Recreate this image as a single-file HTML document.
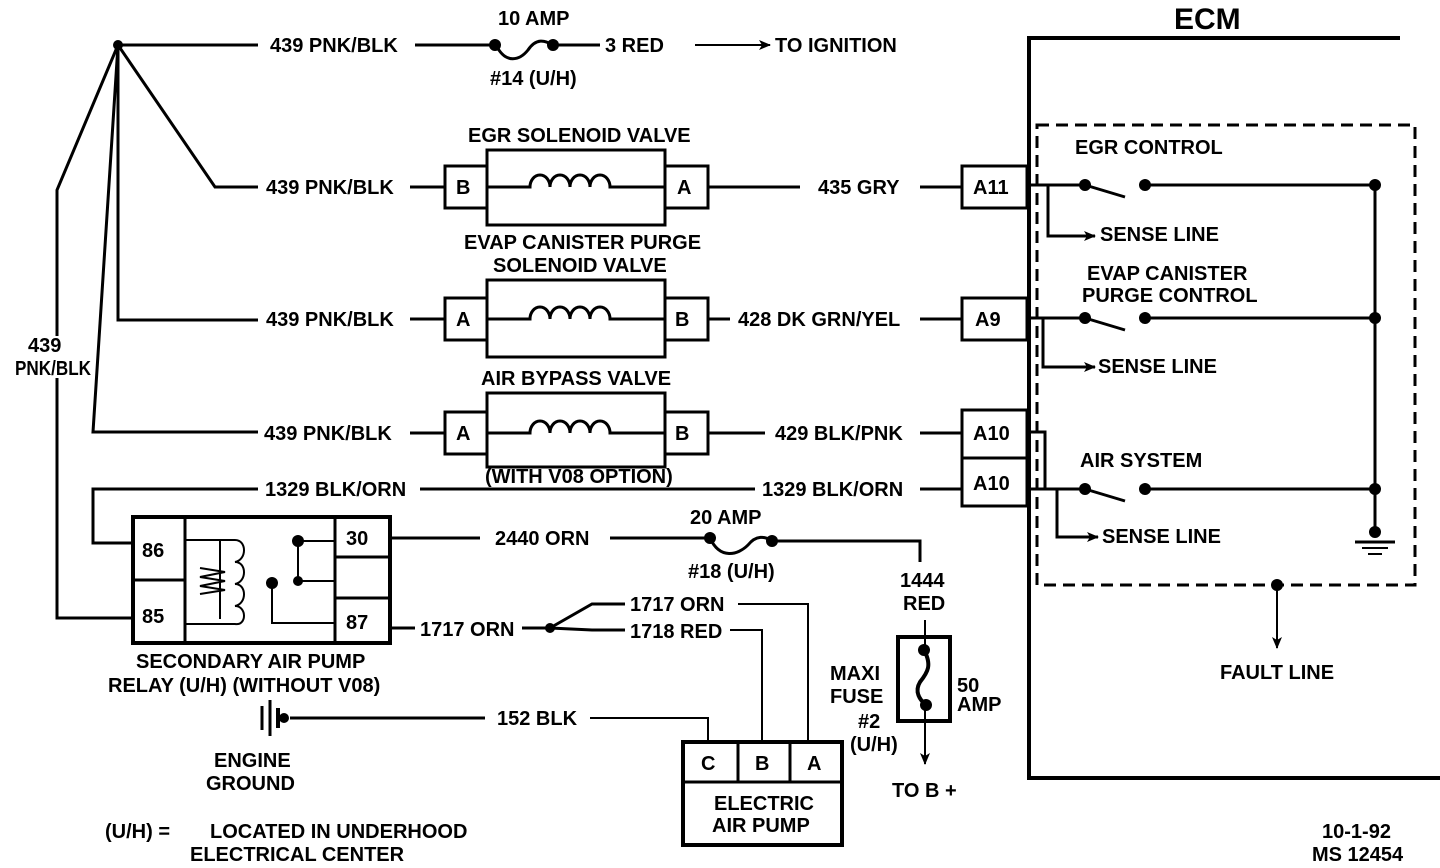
<!DOCTYPE html>
<html><head><style>
html,body{margin:0;padding:0;background:#fff;}
svg{display:block;}
text{font-family:"Liberation Sans",sans-serif;font-weight:bold;font-size:20px;fill:#000;}
</style></head><body>
<svg width="1440" height="868" viewBox="0 0 1440 868" xmlns="http://www.w3.org/2000/svg">
<defs><marker id="ar" markerWidth="12" markerHeight="10" refX="11" refY="5" orient="auto" markerUnits="userSpaceOnUse"><path d="M0,0 L12,5 L0,10 L3,5 Z" fill="#000"/></marker></defs>
<g stroke="#000" stroke-width="3" fill="none">
<line x1="118" y1="45" x2="258" y2="45"/>
<polyline points="118,45 215,187 258,187"/>
<polyline points="118,45 118,320 258,320"/>
<polyline points="118,45 93,432 258,432"/>
<polyline points="118,45 57,190 57,336"/>
<polyline points="57,378 57,618 133,618"/>
<polyline points="258,489 93,489 93,543 133,543"/>
<line x1="415" y1="45" x2="492" y2="45"/>
<path d="M496,45 C506,65 520,60 528,50 C536,38 545,40 552,45"/>
<line x1="555" y1="45" x2="600" y2="45"/>
<line x1="695" y1="45" x2="770" y2="45" marker-end="url(#ar)" stroke-width="2"/>
<rect x="445" y="166" width="42" height="42"/><rect x="487" y="150" width="178" height="75"/><rect x="665" y="166" width="43" height="42"/>
<line x1="410" y1="187" x2="445" y2="187"/>
<path d="M487,187 H530 a10,12 0 0 1 20,0 a10,12 0 0 1 20,0 a10,12 0 0 1 20,0 a10,12 0 0 1 20,0 H665"/>
<line x1="708" y1="187" x2="800" y2="187"/><line x1="920" y1="187" x2="962" y2="187"/>
<rect x="962" y="166" width="65" height="42"/>
<rect x="445" y="298" width="42" height="42"/><rect x="487" y="280" width="178" height="77"/><rect x="665" y="298" width="43" height="42"/>
<line x1="410" y1="319" x2="445" y2="319"/>
<path d="M487,319 H530 a10,12 0 0 1 20,0 a10,12 0 0 1 20,0 a10,12 0 0 1 20,0 a10,12 0 0 1 20,0 H665"/>
<line x1="708" y1="319" x2="730" y2="319"/><line x1="920" y1="319" x2="962" y2="319"/>
<rect x="962" y="298" width="65" height="42"/>
<rect x="445" y="412" width="42" height="42"/><rect x="487" y="393" width="178" height="74"/><rect x="665" y="412" width="43" height="42"/>
<line x1="410" y1="433" x2="445" y2="433"/>
<path d="M487,433 H530 a10,12 0 0 1 20,0 a10,12 0 0 1 20,0 a10,12 0 0 1 20,0 a10,12 0 0 1 20,0 H665"/>
<line x1="708" y1="433" x2="765" y2="433"/><line x1="920" y1="433" x2="962" y2="433"/>
<rect x="962" y="410" width="65" height="48"/><rect x="962" y="458" width="65" height="48"/>
<line x1="420" y1="489" x2="755" y2="489"/><line x1="920" y1="489" x2="962" y2="489"/>
<polyline points="1400,38 1029,38 1029,778 1440,778" stroke-width="4"/>
<rect x="1037" y="125" width="378" height="460" stroke-dasharray="12,7"/>
<line x1="1027" y1="185" x2="1085" y2="185"/><line x1="1085" y1="185" x2="1125" y2="197"/><line x1="1145" y1="185" x2="1375" y2="185"/>
<polyline points="1048,185 1048,236 1095,236" marker-end="url(#ar)"/>
<line x1="1027" y1="318" x2="1085" y2="318"/><line x1="1085" y1="318" x2="1125" y2="330"/><line x1="1145" y1="318" x2="1375" y2="318"/>
<polyline points="1043,318 1043,367 1095,367" marker-end="url(#ar)"/>
<polyline points="1027,432 1045,432 1045,489"/>
<line x1="1027" y1="489" x2="1085" y2="489"/><line x1="1085" y1="489" x2="1125" y2="501"/><line x1="1145" y1="489" x2="1375" y2="489"/>
<polyline points="1057,489 1057,537 1098,537" marker-end="url(#ar)"/>
<line x1="1375" y1="185" x2="1375" y2="535"/>
<line x1="1355" y1="542" x2="1395" y2="542"/><line x1="1362" y1="548" x2="1388" y2="548" stroke-width="2"/><line x1="1368" y1="554" x2="1382" y2="554" stroke-width="2"/>
<line x1="1277" y1="585" x2="1277" y2="648" marker-end="url(#ar)" stroke-width="2"/>
<rect x="133" y="517" width="257" height="126" stroke-width="4"/>
<line x1="185" y1="517" x2="185" y2="643"/><line x1="133" y1="580" x2="185" y2="580"/>
<line x1="335" y1="517" x2="335" y2="643"/><line x1="335" y1="557" x2="390" y2="557"/><line x1="335" y1="598" x2="390" y2="598"/>
<path d="M185,540 H235 c12,0 12,20 0,22 c12,0 12,20 0,22 c12,0 12,20 0,22 c12,0 12,20 0,18 H185" stroke-width="2"/>
<path d="M185,540 H220 V619" stroke-width="2"/>
<path d="M200,568 L225,572 L200,577 L225,581 L200,586 L225,590 L200,594" stroke-width="2"/>
<polyline points="335,541 298,541 298,581 335,581" stroke-width="2"/>
<polyline points="272,583 272,623 335,623" stroke-width="2"/>
<line x1="390" y1="538" x2="480" y2="538"/><line x1="610" y1="538" x2="707" y2="538"/>
<path d="M710,538 C720,560 738,555 748,545 C756,535 765,536 772,541"/>
<polyline points="775,541 920,541 920,562"/>
<line x1="925" y1="620" x2="925" y2="645" stroke-width="2"/>
<rect x="898" y="637" width="52" height="84" stroke-width="4"/>
<path d="M924,650 C932,665 928,672 920,682 C914,692 920,700 926,705" stroke-width="4"/>
<line x1="925" y1="705" x2="925" y2="764" marker-end="url(#ar)" stroke-width="2"/>
<polyline points="390,628 415,628"/><line x1="522" y1="628" x2="550" y2="628"/>
<polyline points="550,628 592,604 625,604"/><polyline points="550,628 592,630 625,630"/>
<polyline points="738,604 808,604 808,742" stroke-width="2"/>
<polyline points="730,630 762,630 762,742" stroke-width="2"/>
<line x1="290" y1="718" x2="485" y2="718"/><polyline points="590,718 708,718 708,742" stroke-width="2"/>
<line x1="262" y1="706" x2="262" y2="730"/><line x1="270" y1="700" x2="270" y2="736"/><line x1="278" y1="708" x2="278" y2="728" stroke-width="4"/>
<rect x="683" y="742" width="159" height="103" stroke-width="4"/>
<line x1="683" y1="782" x2="842" y2="782"/><line x1="738" y1="742" x2="738" y2="782"/><line x1="790" y1="742" x2="790" y2="782"/>
</g>
<g fill="#000">
<circle cx="118" cy="45" r="5"/><circle cx="495" cy="45" r="6"/><circle cx="553" cy="45" r="6"/>
<circle cx="1085" cy="185" r="6"/><circle cx="1145" cy="185" r="6"/><circle cx="1375" cy="185" r="6"/>
<circle cx="1085" cy="318" r="6"/><circle cx="1145" cy="318" r="6"/><circle cx="1375" cy="318" r="6"/>
<circle cx="1085" cy="489" r="6"/><circle cx="1145" cy="489" r="6"/><circle cx="1375" cy="489" r="6"/>
<circle cx="1375" cy="532" r="6"/><circle cx="1277" cy="585" r="6"/>
<circle cx="298" cy="541" r="6"/><circle cx="272" cy="583" r="6"/><circle cx="298" cy="581" r="5"/>
<circle cx="710" cy="538" r="6"/><circle cx="772" cy="541" r="6"/>
<circle cx="924" cy="650" r="6"/><circle cx="926" cy="705" r="6"/><circle cx="550" cy="628" r="5"/>
<circle cx="284" cy="718" r="5"/>
</g>
<text x="1174" y="29" style="font-size:30px">ECM</text>
<text x="270" y="52">439 PNK/BLK</text>
<text x="498" y="25">10 AMP</text>
<text x="490" y="85">#14 (U/H)</text>
<text x="605" y="52">3 RED</text>
<text x="775" y="52">TO IGNITION</text>
<text x="468" y="142">EGR SOLENOID VALVE</text>
<text x="266" y="194">439 PNK/BLK</text>
<text x="456" y="194">B</text><text x="677" y="194">A</text>
<text x="818" y="194">435 GRY</text><text x="973" y="194">A11</text>
<text x="464" y="249">EVAP CANISTER PURGE</text>
<text x="493" y="272">SOLENOID VALVE</text>
<text x="266" y="326">439 PNK/BLK</text>
<text x="456" y="326">A</text><text x="675" y="326">B</text>
<text x="738" y="326">428 DK GRN/YEL</text><text x="975" y="326">A9</text>
<text x="481" y="385">AIR BYPASS VALVE</text>
<text x="264" y="440">439 PNK/BLK</text>
<text x="456" y="440">A</text><text x="675" y="440">B</text>
<text x="775" y="440">429 BLK/PNK</text><text x="973" y="440">A10</text>
<text x="485" y="483">(WITH V08 OPTION)</text>
<text x="265" y="496">1329 BLK/ORN</text><text x="762" y="496">1329 BLK/ORN</text><text x="973" y="490">A10</text>
<text x="28" y="352">439</text><text x="15" y="375" textLength="76" lengthAdjust="spacingAndGlyphs">PNK/BLK</text>
<text x="142" y="557">86</text><text x="142" y="623">85</text>
<text x="346" y="545">30</text><text x="346" y="629">87</text>
<text x="495" y="545">2440 ORN</text>
<text x="690" y="524">20 AMP</text>
<text x="688" y="578">#18 (U/H)</text>
<text x="900" y="587">1444</text><text x="903" y="610">RED</text>
<text x="420" y="636">1717 ORN</text>
<text x="630" y="611">1717 ORN</text><text x="630" y="638">1718 RED</text>
<text x="830" y="680">MAXI</text><text x="830" y="703">FUSE</text>
<text x="957" y="692">50</text><text x="957" y="711">AMP</text>
<text x="858" y="728">#2</text><text x="850" y="751">(U/H)</text>
<text x="892" y="797">TO B +</text>
<text x="136" y="668">SECONDARY AIR PUMP</text>
<text x="108" y="692">RELAY (U/H) (WITHOUT V08)</text>
<text x="497" y="725">152 BLK</text>
<text x="214" y="767">ENGINE</text><text x="206" y="790">GROUND</text>
<text x="701" y="770">C</text><text x="755" y="770">B</text><text x="807" y="770">A</text>
<text x="714" y="810">ELECTRIC</text><text x="712" y="832">AIR PUMP</text>
<text x="1075" y="154">EGR CONTROL</text>
<text x="1100" y="241">SENSE LINE</text>
<text x="1087" y="280">EVAP CANISTER</text><text x="1082" y="302">PURGE CONTROL</text>
<text x="1098" y="373">SENSE LINE</text>
<text x="1080" y="467">AIR SYSTEM</text>
<text x="1102" y="543">SENSE LINE</text>
<text x="1220" y="679">FAULT LINE</text>
<text x="105" y="838">(U/H) =</text>
<text x="210" y="838">LOCATED IN UNDERHOOD</text>
<text x="190" y="861">ELECTRICAL CENTER</text>
<text x="1322" y="838">10-1-92</text><text x="1312" y="861">MS 12454</text>
</svg>
</body></html>
